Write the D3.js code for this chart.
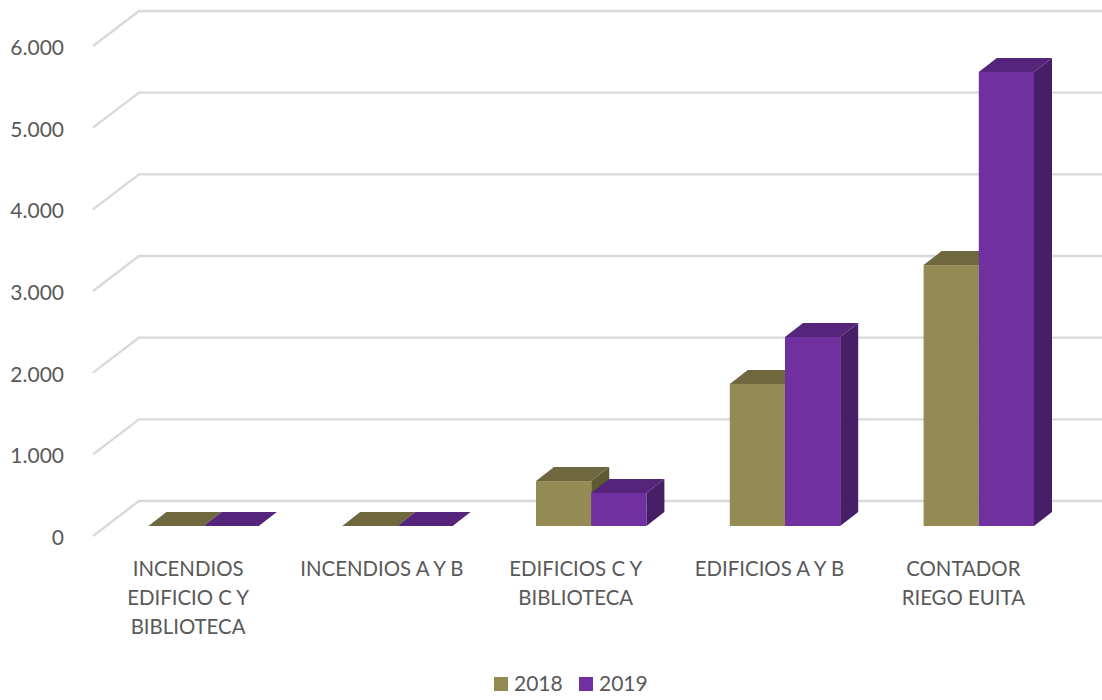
<!DOCTYPE html>
<html><head><meta charset="utf-8">
<script src="https://cdn.jsdelivr.net/npm/d3@7/dist/d3.min.js"></script>
<style>html,body{margin:0;padding:0;background:#fff}svg{display:block}text{font-family:Lato,sans-serif;fill:#595959}</style>
</head><body><svg id="c" width="1102" height="700"></svg>
<script>
const categories = [["INCENDIOS","EDIFICIO C Y","BIBLIOTECA"],["INCENDIOS A Y B"],["EDIFICIOS C Y","BIBLIOTECA"],["EDIFICIOS A Y B"],["CONTADOR","RIEGO EUITA"]];
const years = ["2018","2019"];
const values2018 = [0,0,550,1740,3195];
const values2019 = [0,0,405,2315,5560];
const yTicks = [0,1000,2000,3000,4000,5000,6000];
const tickLabels = ["0","1.000","2.000","3.000","4.000","5.000","6.000"];

const faces = {"2018":{front:"#948a54",top:"#6f683f",side:"#5e5935"},"2019":{front:"#7030a0",top:"#54257a",side:"#471f66"}};
const svg = d3.select("#c");
const y = d3.scaleLinear().domain([0,6000]).range([536,46]);
const x0 = d3.scaleBand().domain(d3.range(5)).range([92.5,1061.5]).paddingInner(0).paddingOuter(0);
const barW = 55.2;
const wallD = [46,-35], barD = [18,-14], barBase = 526-536;
const line = p => "M"+p.map(q=>q.join(",")).join("L")+"Z";

const gridG = svg.append("g");
yTicks.forEach(t=>{
  const yy = y(t);
  gridG.append("path").attr("d",`M93,${yy}L${93+wallD[0]},${yy+wallD[1]}L1102,${yy+wallD[1]}`)
    .attr("fill","none").attr("stroke","#d9d9d9").attr("stroke-width",2.4);
});

const barsG = svg.append("g");
categories.forEach((c,i)=>{
  const cx = x0(i)+x0.bandwidth()/2+14.2;
  [[values2018,"2018",-barW],[values2019,"2019",0]].forEach(([vals,yr,off])=>{
    const l = cx+off, r = l+barW, b = y(0)+barBase, t = y(vals[i])+barBase, f = faces[yr];
    const g = barsG.append("g");
    g.append("path").attr("d",line([[r,b],[r+barD[0],b+barD[1]],[r+barD[0],t+barD[1]],[r,t]])).attr("fill",f.side);
    g.append("path").attr("d",line([[l,t],[l+barD[0],t+barD[1]],[r+barD[0],t+barD[1]],[r,t]])).attr("fill",f.top);
    g.append("rect").attr("x",l).attr("y",t).attr("width",barW).attr("height",b-t).attr("fill",f.front);
  });
  c.forEach((s,k)=>{
    svg.append("text").attr("x",cx-15.5).attr("y",568.5+29*k).attr("dy","0.35em").attr("text-anchor","middle")
      .attr("font-size",20.4).text(s);
  });
});

yTicks.forEach((t,i)=>{
  svg.append("text").attr("x",64).attr("y",y(t)+1.5).attr("dy","0.36em").attr("text-anchor","end")
    .attr("font-size",21).text(tickLabels[i]);
});

const legendX = [494,579];
years.forEach((yr,i)=>{
  svg.append("rect").attr("x",legendX[i]).attr("y",677).attr("width",14).attr("height",14).attr("fill",faces[yr].front);
  svg.append("text").attr("x",legendX[i]+20).attr("y",683.5).attr("dy","0.36em").attr("font-size",21).text(yr);
});
</script></body></html>
